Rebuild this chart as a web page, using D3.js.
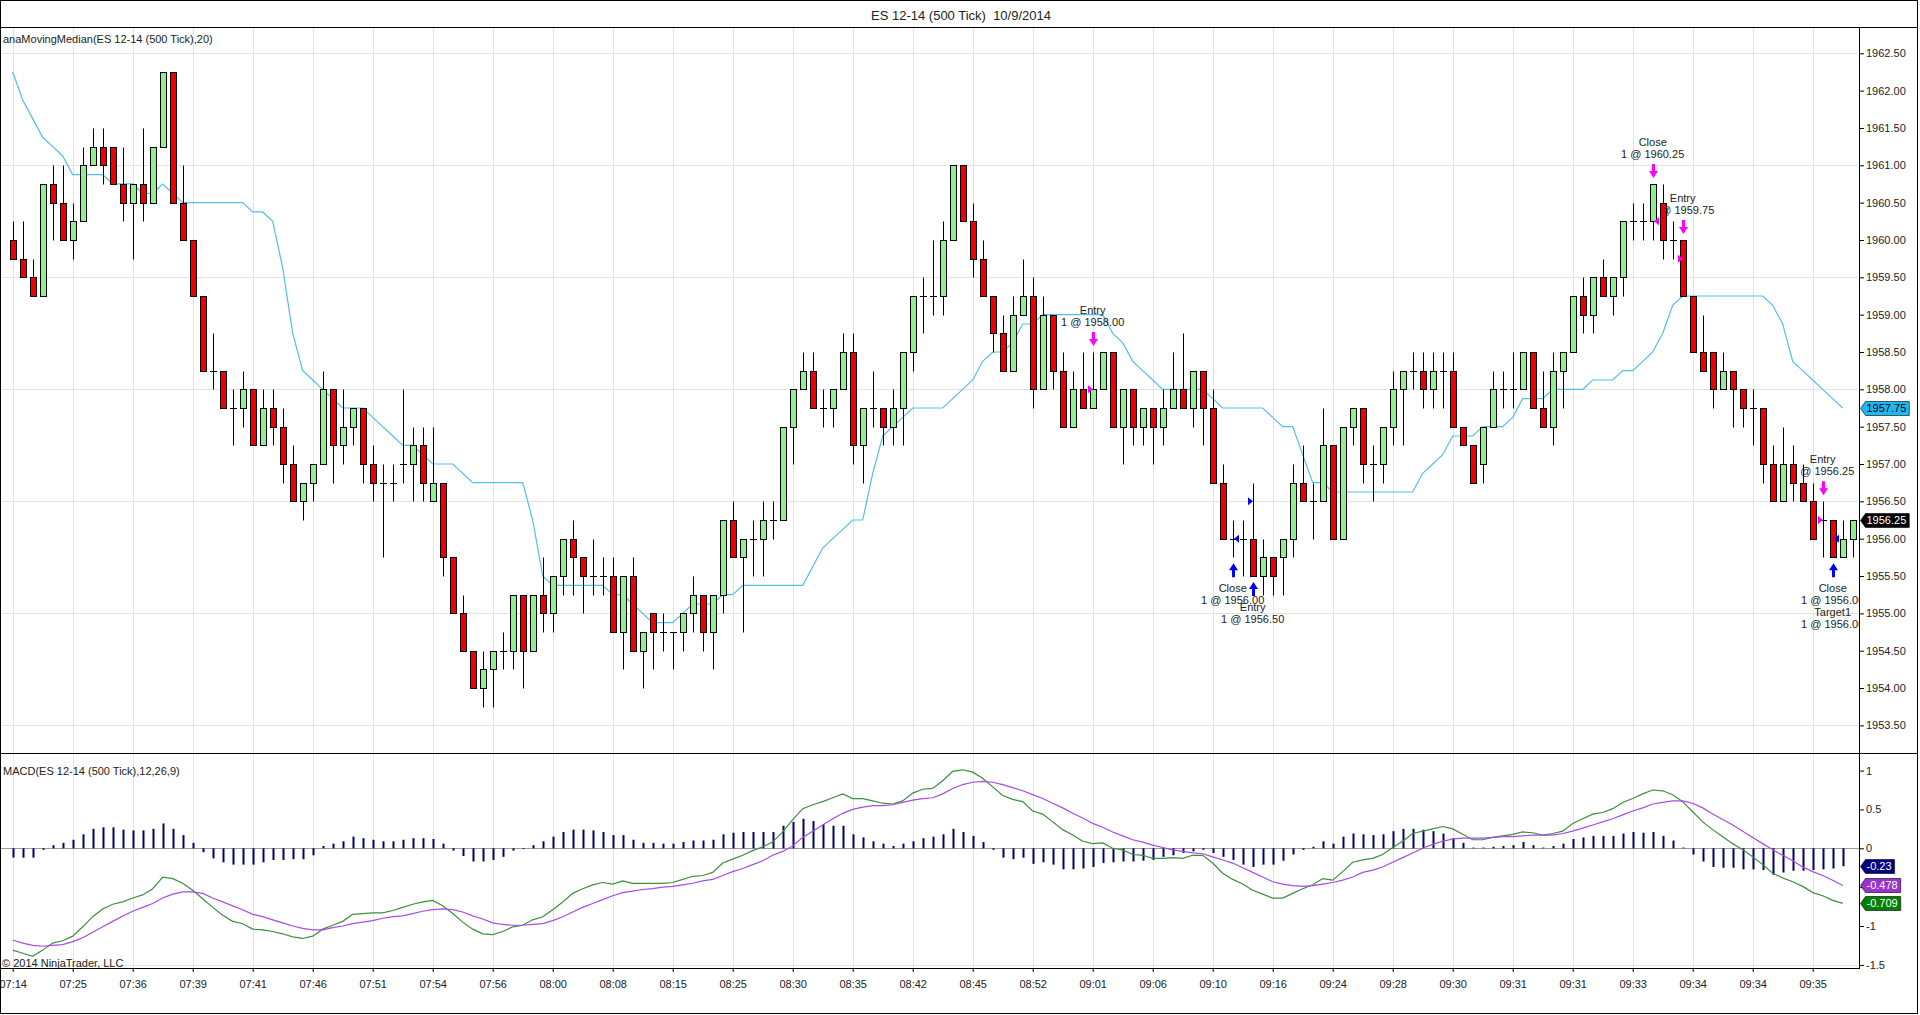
<!DOCTYPE html>
<html>
<head>
<meta charset="utf-8">
<script src="https://cdn.jsdelivr.net/npm/d3@7"></script>
<style>
body{margin:0;background:#fff}
svg{display:block}
text{font-family:Arial,"Liberation Sans",sans-serif}
</style>
</head>
<body>
<div id="chart"></div>
<script>
// ES 12-14 (500 tick) bars, 10/9/2014
const times = ["07:14","07:25","07:36","07:39","07:41","07:46","07:51","07:54","07:56","08:00","08:08",
  "08:15","08:25","08:30","08:35","08:42","08:45","08:52","09:01","09:06","09:10","09:16","09:24",
  "09:28","09:30","09:31","09:31","09:33","09:34","09:34","09:35"]

const open = [1960.00,1959.75,1959.50,1959.25,1960.75,1960.50,1960.00,1960.25,1961.00,1961.25,
  1961.25,1960.75,1960.50,1960.75,1960.50,1961.25,1962.25,1960.50,1960.00,1959.25,
  1958.25,1958.25,1957.75,1957.75,1958.00,1957.25,1957.75,1957.50,1957.00,1956.50,
  1956.75,1957.00,1958.00,1957.25,1957.50,1957.75,1957.00,1956.75,1956.75,1957.00,
  1957.00,1957.25,1956.50,1956.75,1955.75,1955.00,1954.50,1954.00,1954.25,1954.50,
  1954.50,1955.25,1954.50,1955.25,1955.00,1955.50,1956.00,1955.75,1955.50,1955.50,
  1955.50,1954.75,1955.50,1954.50,1955.00,1954.75,1954.75,1954.75,1955.00,1955.25,
  1954.75,1955.25,1956.25,1955.75,1956.00,1956.00,1956.25,1956.25,1957.50,1958.00,
  1958.25,1957.75,1957.75,1958.00,1958.50,1957.25,1957.75,1957.75,1957.50,1957.75,
  1958.50,1959.25,1959.25,1959.25,1960.00,1961.00,1960.25,1959.75,1959.25,1958.75,
  1958.25,1959.00,1959.25,1958.00,1959.00,1958.25,1957.50,1958.00,1957.75,1958.00,
  1958.50,1957.50,1958.00,1957.50,1957.75,1957.50,1957.75,1958.00,1957.75,1958.25,
  1957.75,1956.75,1956.00,1956.00,1956.00,1955.50,1955.75,1955.75,1956.00,1956.75,
  1956.50,1956.50,1957.25,1956.00,1957.50,1957.75,1957.00,1957.00,1957.50,1958.00,
  1958.25,1958.25,1958.00,1958.25,1958.25,1957.50,1957.25,1957.00,1957.50,1958.00,
  1958.00,1958.00,1958.50,1957.75,1957.50,1958.25,1958.50,1959.25,1959.00,1959.50,
  1959.25,1959.50,1960.25,1960.25,1960.25,1960.50,1960.00,1960.00,1959.25,1958.50,
  1958.50,1958.00,1958.25,1958.00,1957.75,1957.75,1957.00,1956.50,1957.00,1956.75,
  1956.50,1956.25,1956.25,1955.75,1956.00]

const high = [1960.25,1960.25,1959.75,1960.75,1961.00,1961.00,1960.50,1961.25,1961.50,1961.50,
  1961.25,1961.25,1960.75,1961.50,1961.25,1962.25,1962.25,1961.00,1960.00,1959.25,
  1958.75,1958.25,1958.00,1958.25,1958.00,1958.00,1958.00,1957.75,1957.25,1956.75,
  1957.00,1958.25,1958.00,1958.00,1957.75,1957.75,1957.25,1957.00,1957.00,1958.00,
  1957.50,1957.50,1957.50,1956.75,1955.75,1955.25,1954.50,1954.50,1954.50,1954.75,
  1955.25,1955.25,1955.25,1955.75,1955.50,1956.00,1956.25,1955.75,1956.00,1955.75,
  1955.75,1955.50,1955.75,1954.75,1955.00,1955.00,1954.75,1955.00,1955.50,1955.25,
  1955.25,1956.25,1956.50,1956.00,1956.25,1956.50,1956.50,1957.50,1958.00,1958.50,
  1958.50,1958.00,1958.00,1958.75,1958.75,1957.75,1958.25,1957.75,1958.00,1958.50,
  1959.25,1959.50,1960.00,1960.25,1961.00,1961.00,1960.50,1960.00,1959.25,1959.00,
  1959.25,1959.75,1959.50,1959.25,1959.00,1958.50,1958.25,1958.50,1958.50,1958.50,
  1958.50,1958.00,1958.00,1957.75,1957.75,1958.00,1958.50,1958.75,1958.25,1958.25,
  1958.00,1957.00,1956.25,1956.25,1956.75,1956.00,1955.75,1956.00,1957.00,1957.25,
  1956.75,1957.75,1957.25,1957.50,1957.75,1957.75,1957.25,1957.50,1958.25,1958.25,
  1958.50,1958.50,1958.50,1958.50,1958.50,1957.50,1957.25,1957.50,1958.25,1958.25,
  1958.50,1958.50,1958.50,1958.25,1958.50,1958.50,1959.25,1959.50,1959.50,1959.75,
  1959.50,1960.25,1960.50,1960.50,1960.75,1960.75,1960.25,1960.00,1959.25,1959.00,
  1958.50,1958.50,1958.25,1958.00,1958.00,1957.75,1957.25,1957.50,1957.25,1957.00,
  1956.75,1956.50,1956.25,1956.25,1956.25]

const low = [1959.75,1959.50,1959.25,1959.25,1960.00,1960.00,1959.75,1960.25,1961.00,1960.75,
  1960.75,1960.25,1959.75,1960.25,1960.50,1961.25,1960.50,1960.00,1959.25,1958.25,
  1958.00,1957.75,1957.25,1957.50,1957.25,1957.25,1957.25,1956.75,1956.50,1956.25,
  1956.50,1957.00,1956.75,1957.00,1957.25,1956.75,1956.50,1955.75,1956.50,1956.75,
  1956.50,1956.50,1956.50,1955.50,1955.00,1954.50,1954.00,1953.75,1953.75,1954.25,
  1954.25,1954.00,1954.50,1954.75,1954.75,1955.25,1955.25,1955.00,1955.25,1955.25,
  1954.75,1954.25,1954.50,1954.00,1954.25,1954.50,1954.25,1954.50,1954.75,1954.50,
  1954.25,1955.00,1955.75,1954.75,1955.50,1955.50,1956.00,1956.25,1957.00,1958.00,
  1957.75,1957.50,1957.50,1958.00,1957.00,1956.75,1957.50,1957.25,1957.25,1957.25,
  1958.25,1958.75,1959.00,1959.00,1960.00,1960.25,1959.50,1959.25,1958.50,1958.25,
  1958.25,1959.00,1957.75,1958.00,1958.00,1957.50,1957.50,1957.75,1957.75,1958.00,
  1957.50,1957.00,1957.25,1957.25,1957.00,1957.25,1957.75,1957.75,1957.50,1957.25,
  1956.75,1956.00,1955.75,1955.50,1955.50,1955.25,1955.25,1955.25,1955.75,1956.50,
  1956.00,1956.50,1956.00,1956.00,1957.25,1956.75,1956.50,1956.75,1957.25,1957.25,
  1958.00,1957.75,1957.75,1957.75,1957.50,1957.25,1956.75,1956.75,1957.50,1957.75,
  1957.75,1958.00,1957.75,1957.50,1957.25,1957.75,1958.50,1958.75,1958.75,1959.25,
  1959.00,1959.25,1960.00,1960.00,1960.00,1959.75,1959.75,1959.25,1958.50,1958.25,
  1957.75,1958.00,1957.50,1957.50,1957.25,1956.75,1956.50,1956.50,1956.50,1956.50,
  1956.00,1955.75,1955.75,1955.75,1955.75]

const close = [1959.75,1959.50,1959.25,1960.75,1960.50,1960.00,1960.25,1961.00,1961.25,1961.00,
  1960.75,1960.50,1960.75,1960.50,1961.25,1962.25,1960.50,1960.00,1959.25,1958.25,
  1958.25,1957.75,1957.75,1958.00,1957.25,1957.75,1957.50,1957.00,1956.50,1956.75,
  1957.00,1958.00,1957.25,1957.50,1957.75,1957.00,1956.75,1956.75,1956.75,1957.00,
  1957.25,1956.75,1956.75,1955.75,1955.00,1954.50,1954.00,1954.25,1954.50,1954.50,
  1955.25,1954.50,1955.25,1955.00,1955.50,1956.00,1955.75,1955.50,1955.50,1955.50,
  1954.75,1955.50,1954.50,1954.75,1954.75,1954.75,1954.75,1955.00,1955.25,1954.75,
  1955.25,1956.25,1955.75,1956.00,1956.00,1956.25,1956.25,1957.50,1958.00,1958.25,
  1957.75,1957.75,1958.00,1958.50,1957.25,1957.75,1957.75,1957.50,1957.75,1958.50,
  1959.25,1959.25,1959.25,1960.00,1961.00,1960.25,1959.75,1959.25,1958.75,1958.25,
  1959.00,1959.25,1958.00,1959.00,1958.25,1957.50,1958.00,1957.75,1958.00,1958.50,
  1957.50,1958.00,1957.50,1957.75,1957.50,1957.75,1958.00,1957.75,1958.25,1957.75,
  1956.75,1956.00,1956.00,1956.00,1955.50,1955.75,1955.50,1956.00,1956.75,1956.50,
  1956.50,1957.25,1956.00,1957.50,1957.75,1957.00,1957.00,1957.50,1958.00,1958.25,
  1958.25,1958.00,1958.25,1958.25,1957.50,1957.25,1956.75,1957.50,1958.00,1958.00,
  1958.00,1958.50,1957.75,1957.50,1958.25,1958.50,1959.25,1959.00,1959.50,1959.25,
  1959.50,1960.25,1960.25,1960.25,1960.75,1960.00,1960.00,1959.25,1958.50,1958.25,
  1958.00,1958.25,1958.00,1957.75,1957.75,1957.00,1956.50,1957.00,1956.75,1956.50,
  1956.00,1956.25,1955.75,1956.00,1956.25]

// anaMovingMedian(20), not calculated on the open bar
const median = [1962.25,1961.875,1961.625,1961.375,1961.25,1961.125,1960.875,1960.875,1960.875,1960.875,
  1960.75,1960.75,1960.75,1960.625,1960.625,1960.75,1960.625,1960.5,1960.5,1960.5,
  1960.5,1960.5,1960.5,1960.5,1960.375,1960.375,1960.25,1959.625,1958.75,1958.25,
  1958.125,1958,1957.875,1957.75,1957.75,1957.75,1957.625,1957.5,1957.375,1957.25,
  1957.25,1957.125,1957,1957,1957,1956.875,1956.75,1956.75,1956.75,1956.75,
  1956.75,1956.75,1956.25,1955.5,1955.375,1955.375,1955.375,1955.375,1955.375,1955.375,
  1955.25,1955.25,1955.125,1955,1954.875,1954.875,1954.875,1955,1955.125,1955.125,
  1955.125,1955.25,1955.25,1955.375,1955.375,1955.375,1955.375,1955.375,1955.375,1955.375,
  1955.625,1955.875,1956,1956.125,1956.25,1956.25,1956.875,1957.375,1957.5,1957.625,
  1957.75,1957.75,1957.75,1957.75,1957.875,1958,1958.125,1958.375,1958.5,1958.5,
  1958.625,1958.875,1958.875,1959,1959,1959,1959,1959,1959,1959,
  1958.75,1958.625,1958.375,1958.25,1958.125,1958,1958,1958,1958,1958,
  1957.875,1957.75,1957.75,1957.75,1957.75,1957.75,1957.625,1957.5,1957.5,1957.125,
  1956.75,1956.75,1956.625,1956.625,1956.625,1956.625,1956.625,1956.625,1956.625,1956.625,
  1956.625,1956.875,1957,1957.125,1957.375,1957.375,1957.375,1957.5,1957.5,1957.5,
  1957.625,1957.875,1957.875,1957.875,1958,1958,1958,1958,1958.125,1958.125,
  1958.125,1958.25,1958.25,1958.375,1958.5,1958.75,1959.125,1959.25,1959.25,1959.25,
  1959.25,1959.25,1959.25,1959.25,1959.25,1959.25,1959.125,1958.875,1958.375,1958.25,
  1958.125,1958,1957.875,1957.75]

// MACD(12,26,9)
const macd = [-1.31,-1.35,-1.39,-1.31,-1.22,-1.19,-1.13,-1.01,-0.88,-0.78,
  -0.72,-0.69,-0.64,-0.60,-0.52,-0.37,-0.39,-0.45,-0.54,-0.65,
  -0.76,-0.86,-0.94,-0.97,-1.04,-1.05,-1.07,-1.10,-1.14,-1.16,
  -1.13,-1.04,-0.99,-0.94,-0.85,-0.84,-0.83,-0.83,-0.80,-0.76,
  -0.72,-0.69,-0.67,-0.74,-0.84,-0.95,-1.04,-1.10,-1.11,-1.07,
  -1.01,-0.99,-0.92,-0.88,-0.79,-0.69,-0.58,-0.52,-0.47,-0.44,
  -0.46,-0.42,-0.45,-0.45,-0.45,-0.45,-0.44,-0.40,-0.36,-0.35,
  -0.31,-0.19,-0.14,-0.09,-0.03,0.02,0.08,0.21,0.37,0.51,
  0.56,0.60,0.65,0.70,0.64,0.64,0.61,0.58,0.57,0.61,
  0.71,0.76,0.77,0.87,0.99,1.01,0.98,0.90,0.79,0.68,
  0.63,0.60,0.48,0.44,0.34,0.24,0.17,0.09,0.06,0.07,
  0.00,-0.02,-0.08,-0.09,-0.13,-0.13,-0.12,-0.13,-0.09,-0.09,
  -0.19,-0.32,-0.40,-0.46,-0.54,-0.59,-0.64,-0.64,-0.58,-0.52,
  -0.47,-0.39,-0.41,-0.30,-0.18,-0.15,-0.13,-0.08,0.01,0.09,
  0.19,0.22,0.25,0.28,0.25,0.18,0.11,0.11,0.14,0.16,
  0.18,0.21,0.20,0.17,0.19,0.22,0.32,0.38,0.44,0.46,
  0.51,0.59,0.64,0.70,0.75,0.74,0.69,0.60,0.47,0.34,
  0.24,0.15,0.06,-0.02,-0.11,-0.21,-0.32,-0.38,-0.43,-0.49,
  -0.57,-0.61,-0.67,-0.709]

const signal = [-1.18,-1.22,-1.25,-1.26,-1.25,-1.24,-1.20,-1.15,-1.08,-1.01,
  -0.94,-0.87,-0.81,-0.76,-0.71,-0.64,-0.59,-0.56,-0.56,-0.58,
  -0.64,-0.69,-0.74,-0.79,-0.85,-0.88,-0.92,-0.96,-1.00,-1.03,
  -1.05,-1.05,-1.02,-1.00,-0.97,-0.95,-0.93,-0.90,-0.88,-0.87,
  -0.84,-0.81,-0.79,-0.78,-0.79,-0.82,-0.87,-0.91,-0.96,-0.98,
  -0.99,-0.99,-0.98,-0.97,-0.93,-0.88,-0.82,-0.76,-0.71,-0.66,
  -0.61,-0.57,-0.55,-0.53,-0.52,-0.50,-0.49,-0.47,-0.45,-0.42,
  -0.40,-0.35,-0.30,-0.26,-0.21,-0.16,-0.09,-0.04,0.03,0.14,
  0.22,0.30,0.38,0.45,0.50,0.53,0.55,0.55,0.56,0.59,
  0.62,0.64,0.65,0.70,0.77,0.82,0.85,0.86,0.85,0.82,
  0.78,0.74,0.69,0.64,0.58,0.52,0.45,0.39,0.32,0.27,
  0.21,0.16,0.11,0.08,0.04,0.01,-0.02,-0.04,-0.06,-0.07,
  -0.11,-0.15,-0.19,-0.25,-0.31,-0.37,-0.43,-0.46,-0.48,-0.49,
  -0.48,-0.46,-0.44,-0.41,-0.37,-0.31,-0.28,-0.24,-0.18,-0.12,
  -0.06,0.00,0.05,0.09,0.12,0.13,0.13,0.13,0.14,0.15,
  0.15,0.16,0.17,0.17,0.17,0.19,0.22,0.26,0.30,0.34,
  0.38,0.43,0.48,0.52,0.57,0.59,0.61,0.61,0.58,0.52,
  0.44,0.37,0.30,0.22,0.14,0.06,-0.02,-0.09,-0.16,-0.24,
  -0.30,-0.35,-0.41,-0.478]

const diff = [-0.12,-0.12,-0.12,-0.02,0.04,0.07,0.11,0.18,0.25,0.27,
  0.27,0.24,0.23,0.23,0.25,0.32,0.25,0.17,0.07,-0.05,
  -0.13,-0.18,-0.21,-0.21,-0.21,-0.18,-0.15,-0.15,-0.14,-0.14,
  -0.09,0.03,0.06,0.09,0.15,0.13,0.11,0.09,0.09,0.11,
  0.13,0.13,0.12,0.06,-0.03,-0.10,-0.17,-0.17,-0.15,-0.11,
  -0.03,-0.01,0.04,0.09,0.15,0.21,0.24,0.24,0.23,0.21,
  0.17,0.17,0.11,0.07,0.07,0.06,0.06,0.08,0.10,0.10,
  0.11,0.18,0.20,0.21,0.21,0.21,0.21,0.29,0.34,0.38,
  0.35,0.31,0.29,0.29,0.18,0.14,0.09,0.06,0.03,0.06,
  0.09,0.13,0.15,0.18,0.25,0.21,0.16,0.08,-0.02,-0.12,
  -0.14,-0.12,-0.20,-0.18,-0.21,-0.27,-0.27,-0.26,-0.24,-0.19,
  -0.18,-0.17,-0.17,-0.16,-0.15,-0.11,-0.09,-0.06,-0.04,-0.02,
  -0.06,-0.11,-0.15,-0.21,-0.24,-0.21,-0.21,-0.16,-0.08,-0.02,
  0.02,0.09,0.06,0.15,0.19,0.18,0.17,0.18,0.22,0.25,
  0.25,0.24,0.22,0.19,0.13,0.07,0.01,0.01,0.02,0.03,
  0.04,0.08,0.04,0.01,0.03,0.06,0.12,0.14,0.16,0.16,
  0.16,0.19,0.21,0.20,0.21,0.16,0.10,0.01,-0.08,-0.17,
  -0.24,-0.25,-0.25,-0.27,-0.27,-0.28,-0.34,-0.31,-0.29,-0.29,
  -0.28,-0.27,-0.26,-0.23]

// executions: bar index, fill price, kind, side
const execBars   = [108, 122, 124, 164, 167, 181, 182]
const execPrices = [1958.00, 1956.00, 1956.50, 1960.25, 1959.75, 1956.25, 1956.00]
const execKinds  = ["Entry", "Close", "Entry", "Close", "Entry", "Entry", "Close"]
const execSides  = ["sell", "buy", "buy", "sell", "sell", "sell", "buy"]
const execExtra  = ["", "", "", "", "", "", "Target1"]

const width = 1920
const height = 1015
const axisX = 1859.5
const priceTop = 27, priceBottom = 753, macdBottom = 968

const svg = d3.select("#chart")
  .append("svg")
  .attr("width", width)
  .attr("height", height)

const x = d3.scaleLinear().domain([0, 184]).range([12.7, 1852.7])
const y = d3.scaleLinear().domain([1953.13, 1962.852]).range([priceBottom, priceTop])
const ym = d3.scaleLinear().domain([-1.54, 1.226]).range([macdBottom, priceBottom])
const px = v => Math.round(v) + 0.5

const defs = svg.append("defs")
defs.append("clipPath").attr("id", "clipPrice")
  .append("rect").attr("x", 0).attr("y", priceTop).attr("width", axisX).attr("height", priceBottom - priceTop)
defs.append("clipPath").attr("id", "clipMacd")
  .append("rect").attr("x", 0).attr("y", priceBottom).attr("width", axisX).attr("height", macdBottom - priceBottom)

const gridLayer = svg.append("g")
const priceLayer = svg.append("g").attr("clip-path", "url(#clipPrice)")
const macdLayer = svg.append("g").attr("clip-path", "url(#clipMacd)")
const axisLayer = svg.append("g")

// grid
const xTicks = d3.range(0, 181, 6)
gridLayer.selectAll(".vgrid").data(xTicks).join("line")
  .attr("x1", d => px(x(d))).attr("x2", d => px(x(d)))
  .attr("y1", priceTop).attr("y2", macdBottom)
  .attr("stroke", "#e3e3e3")
gridLayer.selectAll(".hgrid").data(d3.range(1953.5, 1962.51, 1.5)).join("line")
  .attr("x1", 0).attr("x2", axisX)
  .attr("y1", d => px(y(d))).attr("y2", d => px(y(d)))
  .attr("stroke", "#e3e3e3")
gridLayer.append("line")
  .attr("x1", 0).attr("x2", axisX)
  .attr("y1", px(ym(-1.5))).attr("y2", px(ym(-1.5)))
  .attr("stroke", "#e3e3e3")

// price panel
priceLayer.append("text")
  .attr("x", 3).attr("y", 39).attr("dy", "0.35em")
  .attr("font-size", 11).attr("fill", "#222")
  .text("anaMovingMedian(ES 12-14 (500 Tick),20)")

priceLayer.append("path")
  .datum(median)
  .attr("fill", "none")
  .attr("stroke", "#52bfe8")
  .attr("stroke-width", 1.2)
  .attr("d", d3.line().x((d, i) => x(i)).y(d => y(d)))

const execs = execBars.map((b, i) => ({
  bar: b, price: execPrices[i], kind: execKinds[i], side: execSides[i], extra: execExtra[i]
}))

// execution texts sit under the candles
const notes = priceLayer.append("g")
  .attr("font-size", 11).attr("fill", "#222").attr("text-anchor", "middle")
execs.forEach(e => {
  const cx = x(e.bar)
  let lines = [e.kind, "1 @ " + e.price.toFixed(2)]
  if (e.extra) lines = lines.concat([e.extra, "1 @ " + e.price.toFixed(2)])
  if (e.side === "sell") {
    const top = y(high[e.bar]) - 6 - 14
    lines.forEach((t, k) => notes.append("text")
      .attr("x", cx).attr("y", top - 10 - (lines.length - 1 - k) * 12).attr("dy", "0.35em").text(t))
  } else {
    const bottom = y(low[e.bar]) + 6 + 14
    lines.forEach((t, k) => notes.append("text")
      .attr("x", cx).attr("y", bottom + 11 + k * 12).attr("dy", "0.35em").text(t))
  }
})

// candles
const bars = d3.range(open.length)
const candle = priceLayer.append("g").selectAll("g").data(bars).join("g")
candle.append("line")
  .attr("x1", i => Math.round(x(i)) + 0.5).attr("x2", i => Math.round(x(i)) + 0.5)
  .attr("y1", i => px(y(high[i]))).attr("y2", i => px(y(low[i])))
  .attr("stroke", "#000")
candle.filter(i => open[i] !== close[i]).append("rect")
  .attr("x", i => Math.round(x(i)) - 2.5)
  .attr("width", 6)
  .attr("y", i => px(y(Math.max(open[i], close[i]))))
  .attr("height", i => Math.round(y(Math.min(open[i], close[i]))) - Math.round(y(Math.max(open[i], close[i]))))
  .attr("fill", i => close[i] > open[i] ? "#90ee90" : "#ee0000")
  .attr("stroke", "#000")
candle.filter(i => open[i] === close[i]).append("line")
  .attr("x1", i => Math.round(x(i)) - 3).attr("x2", i => Math.round(x(i)) + 4)
  .attr("y1", i => px(y(close[i]))).attr("y2", i => px(y(close[i])))
  .attr("stroke", "#000")

// execution arrows and fill markers
const marks = priceLayer.append("g")
execs.forEach(e => {
  const cx = Math.round(x(e.bar)) + 0.5
  const col = e.side === "sell" ? "#ff00ff" : "#0000ff"
  let tip, dir
  if (e.side === "sell") { tip = y(high[e.bar]) - 6; dir = -1 } else { tip = y(low[e.bar]) + 6; dir = 1 }
  const headEnd = tip + dir * 7, tail = tip + dir * 14
  marks.append("path")
    .attr("fill", col)
    .attr("d", `M${cx},${tip} L${cx + 4.5},${headEnd} L${cx + 1.5},${headEnd} L${cx + 1.5},${tail}
      L${cx - 1.5},${tail} L${cx - 1.5},${headEnd} L${cx - 4.5},${headEnd} Z`)
  const fy = y(e.price)
  const fx = Math.round(x(e.bar))
  const tri = e.kind === "Entry"
    ? `M${fx},${fy} L${fx - 5},${fy - 4} L${fx - 5},${fy + 4} Z`
    : `M${fx + 1},${fy} L${fx + 6},${fy - 4} L${fx + 6},${fy + 4} Z`
  marks.append("path").attr("fill", col).attr("d", tri)
})

// MACD panel
macdLayer.append("text")
  .attr("x", 3).attr("y", 771).attr("dy", "0.35em")
  .attr("font-size", 11).attr("fill", "#222")
  .text("MACD(ES 12-14 (500 Tick),12,26,9)")
macdLayer.append("text")
  .attr("x", 2).attr("y", 963).attr("dy", "0.35em")
  .attr("font-size", 11).attr("fill", "#222")
  .text("\u00a9 2014 NinjaTrader, LLC")
macdLayer.append("line")
  .attr("x1", 0).attr("x2", axisX)
  .attr("y1", px(ym(0))).attr("y2", px(ym(0)))
  .attr("stroke", "#9a9a9a")
macdLayer.selectAll(".hist").data(diff).join("line")
  .attr("x1", (d, i) => Math.round(x(i)) + 0.5).attr("x2", (d, i) => Math.round(x(i)) + 0.5)
  .attr("y1", ym(0)).attr("y2", d => ym(d))
  .attr("stroke", "#000066").attr("stroke-width", 2)
macdLayer.append("path").datum(macd)
  .attr("fill", "none").attr("stroke", "#3d8f3d").attr("stroke-width", 1.2)
  .attr("d", d3.line().x((d, i) => x(i)).y(d => ym(d)))
macdLayer.append("path").datum(signal)
  .attr("fill", "none").attr("stroke", "#a84be6").attr("stroke-width", 1.2)
  .attr("d", d3.line().x((d, i) => x(i)).y(d => ym(d)))

// axes
const styleAxis = g => g
  .call(g => g.select(".domain").remove())
  .call(g => g.selectAll("text").attr("font-size", 11).attr("fill", "#222")
    .attr("font-family", "Arial, 'Liberation Sans', sans-serif"))
  .call(g => g.selectAll(".tick line").attr("stroke", "#000"))

axisLayer.append("g")
  .attr("transform", `translate(${axisX - 0.5},0)`)
  .call(d3.axisRight(y).tickValues(d3.range(1953.5, 1962.51, 0.5)).tickFormat(d3.format(".2f")).tickSize(5).tickPadding(2))
  .call(styleAxis)
// the -0.5 label sits under the signal tag, so it is left blank
axisLayer.append("g")
  .attr("transform", `translate(${axisX - 0.5},0)`)
  .call(d3.axisRight(ym).tickValues([1, 0.5, 0, -0.5, -1, -1.5]).tickFormat(d => d === -0.5 ? "" : String(d)).tickSize(5).tickPadding(2))
  .call(styleAxis)
axisLayer.append("g")
  .attr("transform", `translate(0,${macdBottom})`)
  .call(d3.axisBottom(x).tickValues(xTicks).tickFormat((d, i) => times[i]).tickSize(4).tickPadding(8))
  .call(styleAxis)

// frame
const frame = svg.append("g").attr("stroke", "#000").attr("fill", "none")
frame.append("line").attr("x1", 0).attr("x2", 1918).attr("y1", priceTop + 0.5).attr("y2", priceTop + 0.5)
frame.append("line").attr("x1", 0).attr("x2", 1918).attr("y1", priceBottom + 0.5).attr("y2", priceBottom + 0.5)
frame.append("line").attr("x1", 0).attr("x2", axisX).attr("y1", macdBottom + 0.5).attr("y2", macdBottom + 0.5)
frame.append("line").attr("x1", axisX).attr("x2", axisX).attr("y1", priceTop).attr("y2", macdBottom + 1)
frame.append("rect").attr("x", 0.5).attr("y", 0.5).attr("width", 1917).attr("height", 1013)

// value tags on the right axis
const tag = (v, scale, label, fill, color) => {
  const yy = Math.round(scale(v)) + 0.5
  const g = axisLayer.append("g")
  const t = g.append("text")
    .attr("x", axisX + 7).attr("y", yy).attr("dy", "0.35em")
    .attr("font-size", 11).attr("fill", color).text(label)
  const w = t.node().getComputedTextLength() + 10
  g.insert("path", "text")
    .attr("fill", fill).attr("stroke", "#000").attr("stroke-width", 0.6)
    .attr("d", `M${axisX + 1},${yy} L${axisX + 6},${yy - 7} L${axisX + w},${yy - 7} L${axisX + w},${yy + 7} L${axisX + 6},${yy + 7} Z`)
}
tag(median[median.length - 1], y, median[median.length - 1].toFixed(2), "#1cb8f0", "#000")
tag(close[close.length - 1], y, close[close.length - 1].toFixed(2), "#000", "#fff")
tag(diff[diff.length - 1], ym, String(diff[diff.length - 1]), "#000080", "#fff")
tag(signal[signal.length - 1], ym, String(signal[signal.length - 1]), "#9932cc", "#fff")
tag(macd[macd.length - 1], ym, String(macd[macd.length - 1]), "#008000", "#fff")

// title
svg.append("text")
  .attr("x", 961).attr("y", 15).attr("dy", "0.35em")
  .attr("text-anchor", "middle").attr("font-size", 13).attr("fill", "#222")
  .text("ES 12-14 (500 Tick)  10/9/2014")
  .attr("xml:space", "preserve")
</script>
</body>
</html>
